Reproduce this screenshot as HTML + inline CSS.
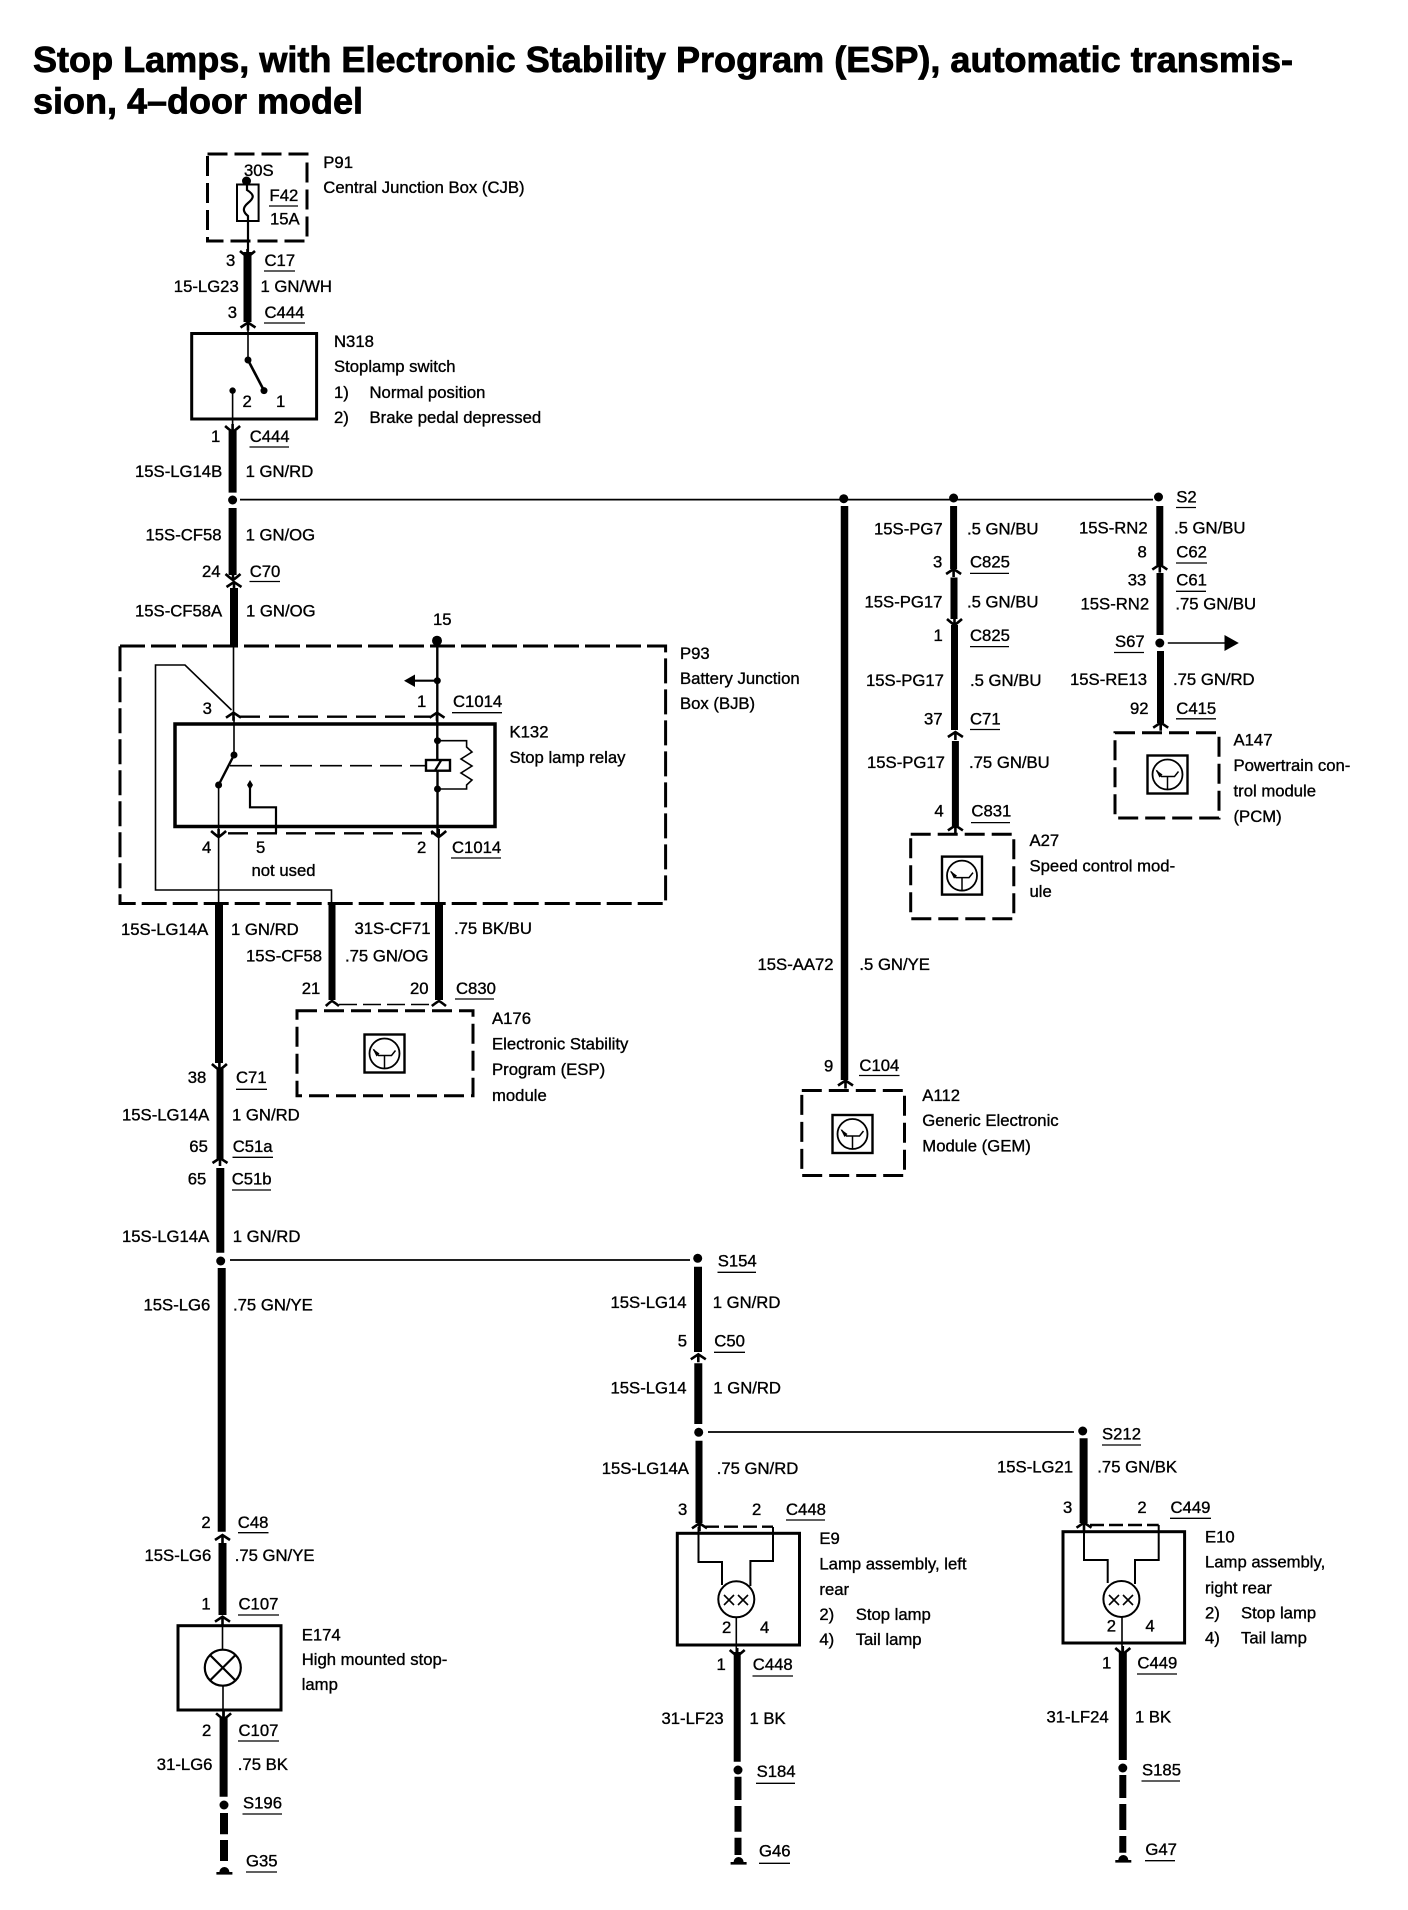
<!DOCTYPE html>
<html><head><meta charset="utf-8"><title>Stop Lamps</title>
<style>
html,body{margin:0;padding:0;background:#fff}
svg{display:block}
text{font-family:"Liberation Sans",sans-serif;font-size:16.7px;fill:#000;stroke:#000;stroke-width:.35}
.t{font-size:36px;font-weight:bold;stroke-width:.8}
.b{fill:none;stroke:#000;stroke-width:3}
.d{fill:none;stroke:#000;stroke-width:3;stroke-dasharray:20 7}
.n{fill:none;stroke:#000;stroke-width:1.6}
.m{fill:none;stroke:#000;stroke-width:2.2}
.w{stroke:#000;stroke-width:8;fill:none}
.u{stroke:#000;stroke-width:1.3;fill:none}
</style></head><body>
<svg width="1408" height="1910" viewBox="0 0 1408 1910" xmlns="http://www.w3.org/2000/svg">
<defs>
<path id="up" d="M-7.5 5 Q-3 2 0 0 Q3 2 7.5 5 M0 0 V8" fill="none" stroke="#000" stroke-width="2.6"/>
<path id="dn" d="M-7.5 -6 Q-3 -2 0 0 Q3 -2 7.5 -6 M0 0 V-8" fill="none" stroke="#000" stroke-width="2.6"/>
<g id="ic"><rect x="-20" y="-19" width="40" height="38" fill="none" stroke="#000" stroke-width="2.4"/><circle cx="0" cy="0" r="15" fill="none" stroke="#000" stroke-width="1.8"/><path d="M-11 -4 L-6 2 H7 L11 -3 M0 2 V15" fill="none" stroke="#000" stroke-width="1.5"/><path d="M-12 -5 L-5 0 L-8 3 Z" fill="#000"/></g>
<g id="gnd"><path d="M-5 4 A5 5 0 0 1 5 4 Z" fill="#000"/><rect x="-8" y="4" width="16" height="2.6" fill="#000"/></g>
</defs>
<rect width="1408" height="1910" fill="#fff"/>

<text class="t" x="33" y="72" textLength="1260" lengthAdjust="spacingAndGlyphs">Stop Lamps, with Electronic Stability Program (ESP), automatic transmis-</text>
<text class="t" x="33" y="113.5" textLength="330" lengthAdjust="spacingAndGlyphs">sion, 4–door model</text>

<!-- P91 -->
<rect class="d" x="207.5" y="154" width="99.5" height="87"/>
<text x="244" y="176">30S</text>
<circle cx="246.5" cy="181" r="4.5"/>
<rect x="237" y="184.5" width="21.6" height="36.5" fill="none" stroke="#000" stroke-width="2"/>
<path class="m" d="M247 181 V190 C255 195 254 198 248 203 C242 208 243 212 248 216 V252"/>
<text x="269.5" y="201">F42</text><path class="u" d="M269 206 H298"/><text x="270" y="224.5">15A</text>
<text x="323.3" y="168">P91</text><text x="323.3" y="193">Central Junction Box (CJB)</text>
<use href="#dn" x="247.5" y="257"/>
<path class="w" d="M247.5 252 V322"/>
<text x="226" y="266">3</text><text x="264.5" y="266">C17</text><path class="u" d="M264 271 H295"/>
<text x="173.8" y="292">15-LG23</text><text x="260.5" y="292">1 GN/WH</text>
<text x="227.7" y="318">3</text><text x="264.5" y="318">C444</text><path class="u" d="M264 323 H305"/>
<use href="#up" x="248" y="322.5"/>

<!-- N318 -->
<rect class="b" x="191.7" y="333.5" width="124.9" height="85.5"/>
<path class="n" d="M248 324 V360"/><circle cx="248" cy="360" r="3.5"/>
<path d="M248 360 L264 390.6" stroke="#000" stroke-width="2.6"/><circle cx="264" cy="390.6" r="3.5"/>
<circle cx="232.6" cy="390.6" r="3.2"/><path class="n" d="M232.6 390 V430"/>
<text x="242.5" y="407">2</text><text x="276" y="407">1</text>
<text x="334" y="347">N318</text><text x="334" y="372">Stoplamp switch</text>
<text x="334" y="398">1)</text><text x="369.5" y="398">Normal position</text>
<text x="334" y="423">2)</text><text x="369.5" y="423">Brake pedal depressed</text>
<use href="#dn" x="232.6" y="432"/>
<text x="211" y="442">1</text><text x="249.7" y="442">C444</text><path class="u" d="M249.5 447 H289"/>
<path class="w" d="M232.6 431 V492.6"/>
<text x="135" y="477">15S-LG14B</text><text x="245.6" y="477">1 GN/RD</text>
<circle cx="232.6" cy="500" r="4.5"/>
<path d="M240 499.6 H1153" stroke="#000" stroke-width="1.7" fill="none"/>
<path class="w" d="M232.6 508 V575"/>
<text x="145.5" y="540.4">15S-CF58</text><text x="245.6" y="540.4">1 GN/OG</text>
<text x="202" y="577">24</text><text x="249.7" y="577">C70</text><path class="u" d="M249.5 581.5 H280"/>
<use href="#dn" x="233" y="580"/><use href="#up" x="234" y="582"/>
<path class="w" d="M234 588 V647"/>
<text x="135" y="616.7">15S-CF58A</text><text x="246" y="616.7">1 GN/OG</text>

<!-- P93 -->
<rect class="d" style="stroke-dasharray:25 6" x="120" y="646" width="545.6" height="257.5"/>
<text x="680" y="659">P93</text><text x="680" y="684">Battery Junction</text><text x="680" y="709">Box (BJB)</text>
<text x="433" y="625">15</text><circle cx="437" cy="640.7" r="5"/>
<path class="n" d="M233.5 645 V713 M234 717 V755"/>
<path class="n" d="M231.5 710 L185 665 H155.5 V890 H331.5 V903"/>
<path class="m" style="stroke-width:2.4" d="M437.3 640 V760 M437.5 771 V835"/>
<circle cx="437.3" cy="680.7" r="3.5"/><path class="m" d="M437 680.7 H414"/><path d="M404 680.7 L415 674.5 V687 Z"/>
<use href="#up" x="233.5" y="712.7"/><use href="#up" x="437" y="712.7"/>
<path class="d" style="stroke-width:2.4;stroke-dasharray:20 9" d="M240 716.7 H430"/>
<text x="202.6" y="714">3</text><text x="417" y="707">1</text><text x="453" y="707">C1014</text><path class="u" d="M452 712.7 H502"/>
<rect x="175" y="724" width="320" height="102.5" fill="none" stroke="#000" stroke-width="3.5"/>
<text x="509.5" y="737.7">K132</text><text x="509.5" y="763">Stop lamp relay</text>
<circle cx="437.5" cy="740.7" r="3.5"/><circle cx="437.5" cy="789" r="3.5"/>
<path class="n" d="M437.5 740.7 H466.6 V747 L472 752 L461 759 L472 766 L461 773 L472 780 L466.6 785 V789 H437.5"/>
<rect x="426" y="760" width="24" height="10.7" fill="none" stroke="#000" stroke-width="2.4"/><path class="m" d="M441 760.5 L435 770.5"/>
<path class="n" d="M230 765.7 H426" stroke-dasharray="22 8"/>
<circle cx="234" cy="755" r="3.5"/><path d="M234 755 L218.6 785" stroke="#000" stroke-width="2.4"/><circle cx="218.6" cy="785" r="3.5"/>
<path class="n" d="M218.6 785 V903"/>
<path d="M250 780 L253 785 L250 790 L247 785 Z"/><path class="m" d="M250 785 V807.3 H276 V833"/>
<path class="d" style="stroke-width:2.4;stroke-dasharray:20 9" d="M228 833.3 H433"/>
<use href="#dn" x="218.6" y="837"/><use href="#dn" x="438.7" y="837"/>
<path class="n" d="M438.7 837 V903"/>
<text x="202" y="853">4</text><text x="256" y="853">5</text><text x="417" y="853">2</text><text x="452" y="853">C1014</text><path class="u" d="M451 858 H501"/>
<text x="251.5" y="876">not used</text>

<!-- below BJB -->
<path class="w" d="M219 903 V1063"/>
<path class="w" style="stroke-width:7" d="M332 903 V1000"/>
<path class="w" d="M439 903 V1000"/>
<text x="121" y="935">15S-LG14A</text><text x="231" y="935">1 GN/RD</text>
<text x="354.5" y="934">31S-CF71</text><text x="454" y="934">.75 BK/BU</text>
<text x="246" y="961.7">15S-CF58</text><text x="345" y="961.7">.75 GN/OG</text>
<text x="301.7" y="994">21</text><text x="410" y="994">20</text><text x="456" y="994">C830</text><path class="u" d="M455 999 H494"/>
<path d="M325.8 1006 Q330 1002 332 1001 Q334 1002 339 1006 M431.8 1006 Q437 1002 439 1001 Q441 1002 446 1006" fill="none" stroke="#000" stroke-width="2.6"/>
<path class="n" d="M339 1004.5 H432" stroke-dasharray="18 6"/>
<rect class="d" x="297" y="1010.7" width="176" height="85"/>
<use href="#ic" x="384.5" y="1053.5"/>
<text x="492" y="1024">A176</text><text x="492" y="1049.3">Electronic Stability</text><text x="492" y="1075">Program (ESP)</text><text x="492" y="1101">module</text>

<use href="#dn" x="219.4" y="1070"/>
<path class="w" style="stroke-width:7" d="M220 1068 V1159"/>
<text x="187.7" y="1083">38</text><text x="236" y="1083">C71</text><path class="u" d="M236 1089.3 H267"/>
<text x="122" y="1120.7">15S-LG14A</text><text x="232" y="1120.7">1 GN/RD</text>
<text x="189.3" y="1152">65</text><text x="232.7" y="1152">C51a</text><path class="u" d="M232.5 1157.3 H273"/>
<use href="#up" x="220" y="1158"/>
<path class="w" d="M220.3 1168 V1252.7"/>
<text x="187.7" y="1184.7">65</text><text x="231.7" y="1184.7">C51b</text><path class="u" d="M232 1190 H271"/>
<text x="122" y="1242">15S-LG14A</text><text x="232.7" y="1242">1 GN/RD</text>
<circle cx="220.7" cy="1261" r="4.5"/>
<path d="M230 1260 H690" stroke="#000" stroke-width="1.7" fill="none"/>
<path class="w" d="M221.7 1268 V1531.7"/>
<text x="143.5" y="1310.7">15S-LG6</text><text x="233" y="1310.7">.75 GN/YE</text>

<!-- E174 -->
<text x="201.4" y="1528">2</text><text x="237.8" y="1528">C48</text><path class="u" d="M238 1532.7 H268.5"/>
<use href="#up" x="222.5" y="1535"/>
<path class="w" d="M222.5 1543 V1615"/>
<text x="144.5" y="1561">15S-LG6</text><text x="234.7" y="1561">.75 GN/YE</text>
<text x="201.4" y="1609.3">1</text><text x="238.5" y="1609.3">C107</text><path class="u" d="M238 1615 H279"/>
<use href="#up" x="222.5" y="1616.7"/>
<rect class="b" x="178" y="1625.7" width="103" height="84.3"/>
<path class="n" d="M222.5 1617 V1650 M223 1686 V1718"/>
<circle cx="222.8" cy="1667.7" r="18" class="m"/><path class="m" d="M210 1655 L235.5 1680.5 M235.5 1655 L210 1680.5"/>
<text x="301.7" y="1640.7">E174</text><text x="301.7" y="1665">High mounted stop-</text><text x="301.7" y="1690">lamp</text>
<use href="#dn" x="223.6" y="1719.3"/>
<path class="w" d="M223.6 1718 V1796.7"/>
<text x="202" y="1736">2</text><text x="238.5" y="1736">C107</text><path class="u" d="M238 1741 H279"/>
<text x="156.8" y="1770">31-LG6</text><text x="237.8" y="1770">.75 BK</text>
<circle cx="224" cy="1805" r="4.5"/>
<text x="243" y="1808.3">S196</text><path class="u" d="M242.5 1814 H282"/>
<path class="w" d="M224 1813 V1834.3 M224 1840 V1861"/>
<use href="#gnd" x="224.4" y="1868"/>
<text x="246" y="1866.7">G35</text><path class="u" d="M246 1872 H277"/>

<!-- A112 branch -->
<circle cx="843.75" cy="498.7" r="4.5"/><circle cx="953.6" cy="498" r="4.5"/><circle cx="1158.5" cy="497" r="4.5"/>
<text x="1176.3" y="502.4">S2</text><path class="u" d="M1176 507.5 H1196"/>
<path class="w" style="stroke-width:7.5" d="M844.5 506 V1080"/>
<text x="757.5" y="970">15S-AA72</text><text x="859.4" y="970">.5 GN/YE</text>
<text x="824" y="1071.5">9</text><text x="859.4" y="1071">C104</text><path class="u" d="M859 1075.5 H899.5"/>
<use href="#up" x="845.5" y="1080.5"/>
<rect class="d" x="801.8" y="1090.5" width="102.7" height="85"/>
<use href="#ic" x="852.5" y="1134"/>
<text x="922.3" y="1101">A112</text><text x="922.3" y="1126">Generic Electronic</text><text x="922.3" y="1151.5">Module (GEM)</text>

<!-- A27 branch -->
<path class="w" style="stroke-width:7" d="M953.6 506 V569"/>
<text x="874" y="534.6">15S-PG7</text><text x="967" y="534.6">.5 GN/BU</text>
<text x="933" y="567.4">3</text><text x="970" y="567.4">C825</text><path class="u" d="M970 573.4 H1009"/>
<use href="#up" x="953.6" y="569"/>
<path class="w" style="stroke-width:7" d="M954 577.5 V619"/>
<text x="864.5" y="607.4">15S-PG17</text><text x="967" y="607.4">.5 GN/BU</text>
<use href="#dn" x="954.5" y="625"/>
<text x="933.5" y="641">1</text><text x="970" y="641">C825</text><path class="u" d="M970 646.6 H1009"/>
<path class="w" style="stroke-width:7" d="M954.5 625 V730"/>
<text x="866" y="686">15S-PG17</text><text x="970" y="686">.5 GN/BU</text>
<text x="924" y="724.4">37</text><text x="970" y="724.4">C71</text><path class="u" d="M970 729.5 H1000"/>
<use href="#up" x="955.4" y="732"/>
<path class="w" style="stroke-width:7" d="M955.4 741 V826"/>
<text x="867" y="767.8">15S-PG17</text><text x="969" y="767.8">.75 GN/BU</text>
<text x="934.4" y="816.6">4</text><text x="971.4" y="816.6">C831</text><path class="u" d="M971 822.6 H1010"/>
<use href="#up" x="955.4" y="825.4"/>
<rect class="d" x="910.7" y="834.3" width="103.1" height="84.4"/>
<use href="#ic" x="962" y="875.6"/>
<text x="1029.5" y="846">A27</text><text x="1029.5" y="871.4">Speed control mod-</text><text x="1029.5" y="896.8">ule</text>

<!-- A147 branch -->
<path class="w" style="stroke-width:7" d="M1159.8 506 V565"/>
<text x="1079" y="533.7">15S-RN2</text><text x="1174" y="533.7">.5 GN/BU</text>
<text x="1137.5" y="557.7">8</text><text x="1176.3" y="557.7">C62</text><path class="u" d="M1176 563 H1207"/>
<use href="#up" x="1159.8" y="564.6"/>
<path class="w" style="stroke-width:7" d="M1160 573 V635"/>
<text x="1127.7" y="585.3">33</text><text x="1176.3" y="585.3">C61</text><path class="u" d="M1176 591.3 H1206"/>
<text x="1080.5" y="609.7">15S-RN2</text><text x="1175.4" y="609.7">.75 GN/BU</text>
<text x="1115" y="647">S67</text><path class="u" d="M1114 652.5 H1144"/>
<circle cx="1159.8" cy="643" r="4.5"/>
<path class="n" d="M1167.8 643 H1226"/><path d="M1238.8 643 L1224.5 635 V651 Z"/>
<path class="w" style="stroke-width:7" d="M1160.5 651 V723"/>
<text x="1070" y="684.8">15S-RE13</text><text x="1173" y="684.8">.75 GN/RD</text>
<text x="1130" y="713.8">92</text><text x="1176.3" y="713.8">C415</text><path class="u" d="M1176 718.8 H1216"/>
<use href="#up" x="1160.7" y="722.7"/>
<rect class="d" x="1115" y="732.8" width="104" height="85.2"/>
<use href="#ic" x="1167.5" y="774.5"/>
<text x="1233.5" y="745.6">A147</text><text x="1233.5" y="771">Powertrain con-</text><text x="1233.5" y="796.3">trol module</text><text x="1233.5" y="822">(PCM)</text>

<!-- S154 -->
<circle cx="697.7" cy="1258.3" r="4.5"/>
<text x="717.7" y="1266.7">S154</text><path class="u" d="M717.5 1272.3 H756"/>
<path class="w" d="M698 1266.7 V1352"/>
<text x="610.5" y="1308">15S-LG14</text><text x="712.7" y="1308">1 GN/RD</text>
<text x="677.7" y="1346.7">5</text><text x="714.3" y="1346.7">C50</text><path class="u" d="M714 1352.3 H745"/>
<use href="#up" x="698.3" y="1354.3"/>
<path class="w" d="M698.3 1363.3 V1424"/>
<text x="610.5" y="1393.3">15S-LG14</text><text x="713.3" y="1393.3">1 GN/RD</text>
<circle cx="698.7" cy="1432.3" r="4.5"/>
<path d="M708 1432 H1074" stroke="#000" stroke-width="1.7" fill="none"/>
<path class="w" style="stroke-width:7" d="M699 1440.7 V1523"/>
<text x="601.7" y="1474">15S-LG14A</text><text x="716.7" y="1474">.75 GN/RD</text>

<!-- E9 -->
<text x="678" y="1515">3</text><text x="752" y="1515">2</text><text x="786" y="1515">C448</text><path class="u" d="M786 1520 H825"/>
<use href="#up" x="699.5" y="1523.3"/>
<path class="d" style="stroke-width:2.4;stroke-dasharray:14 5" d="M705 1526.7 H773"/>
<rect class="b" x="677.3" y="1533.3" width="122.2" height="111.7"/>
<path class="n" style="stroke-width:2" d="M698.5 1527 V1562 H722 V1585 M773 1527 V1561 H750.4 V1586"/>
<circle cx="736.3" cy="1599.3" r="18" class="n" style="stroke-width:2"/>
<path class="n" d="M724 1595 L734 1605 M734 1595 L724 1605 M738 1595 L748 1605 M748 1595 L738 1605"/>
<text x="722" y="1633">2</text><text x="760" y="1633">4</text>
<path class="n" d="M736.3 1617 V1655"/>
<use href="#dn" x="737.2" y="1656"/>
<text x="716.5" y="1670">1</text><text x="752.8" y="1670">C448</text><path class="u" d="M752.5 1676 H793"/>
<path class="w" style="stroke-width:7" d="M737.2 1652 V1761.7"/>
<text x="661.5" y="1724">31-LF23</text><text x="749.5" y="1724">1 BK</text>
<circle cx="738" cy="1770" r="4.5"/>
<text x="756.6" y="1777">S184</text><path class="u" d="M756 1783.3 H795"/>
<path class="w" style="stroke-width:7" d="M738 1776.7 V1800 M738 1806 V1831.7 M738 1837.7 V1855"/>
<use href="#gnd" x="738.6" y="1858"/>
<text x="759" y="1856.7">G46</text><path class="u" d="M759 1863.3 H790"/>
<text x="819.4" y="1544">E9</text><text x="819.4" y="1569.3">Lamp assembly, left</text><text x="819.4" y="1595">rear</text>
<text x="819.4" y="1620">2)</text><text x="855.7" y="1620">Stop lamp</text>
<text x="819.4" y="1645">4)</text><text x="855.7" y="1645">Tail lamp</text>

<!-- E10 -->
<circle cx="1082.7" cy="1431" r="4.5"/>
<text x="1102" y="1439.3">S212</text><path class="u" d="M1102 1445 H1141"/>
<path class="w" d="M1083.6 1438.3 V1523"/>
<text x="997" y="1472.7">15S-LG21</text><text x="1097.3" y="1472.7">.75 GN/BK</text>
<text x="1063" y="1513">3</text><text x="1137.4" y="1513">2</text><text x="1170.5" y="1513">C449</text><path class="u" d="M1170 1518.3 H1211"/>
<use href="#up" x="1084" y="1522.7"/>
<path class="d" style="stroke-width:2.6;stroke-dasharray:14 5" d="M1090 1525 H1158.7"/>
<rect class="b" x="1063" y="1531.7" width="121.6" height="111.3"/>
<path class="n" style="stroke-width:2" d="M1084 1525 V1560 H1107.7 V1583 M1158.7 1525 V1560 H1135 V1584"/>
<circle cx="1121.4" cy="1599" r="18" class="n" style="stroke-width:2"/>
<path class="n" d="M1109 1595 L1119 1605 M1119 1595 L1109 1605 M1123 1595 L1133 1605 M1133 1595 L1123 1605"/>
<text x="1106.8" y="1631.7">2</text><text x="1145.4" y="1631.7">4</text>
<path class="n" d="M1122 1617 V1653"/>
<use href="#dn" x="1122.8" y="1654"/>
<text x="1102" y="1668.3">1</text><text x="1137.4" y="1668.3">C449</text><path class="u" d="M1137 1674 H1177"/>
<path class="w" d="M1122.8 1652 V1760"/>
<text x="1046.5" y="1722.3">31-LF24</text><text x="1135" y="1722.3">1 BK</text>
<circle cx="1122.8" cy="1768" r="4.5"/>
<text x="1142" y="1775.7">S185</text><path class="u" d="M1141.5 1781 H1180"/>
<path class="w" style="stroke-width:7" d="M1122.8 1775 V1798 M1122.8 1804 V1830 M1122.8 1836 V1852.7"/>
<use href="#gnd" x="1123.3" y="1856"/>
<text x="1145.4" y="1855">G47</text><path class="u" d="M1145 1860.7 H1175"/>
<text x="1205" y="1542.3">E10</text><text x="1205" y="1567.7">Lamp assembly,</text><text x="1205" y="1593.3">right rear</text>
<text x="1205" y="1618.3">2)</text><text x="1241" y="1618.3">Stop lamp</text>
<text x="1205" y="1643.3">4)</text><text x="1241" y="1643.3">Tail lamp</text>
</svg>
</body></html>
